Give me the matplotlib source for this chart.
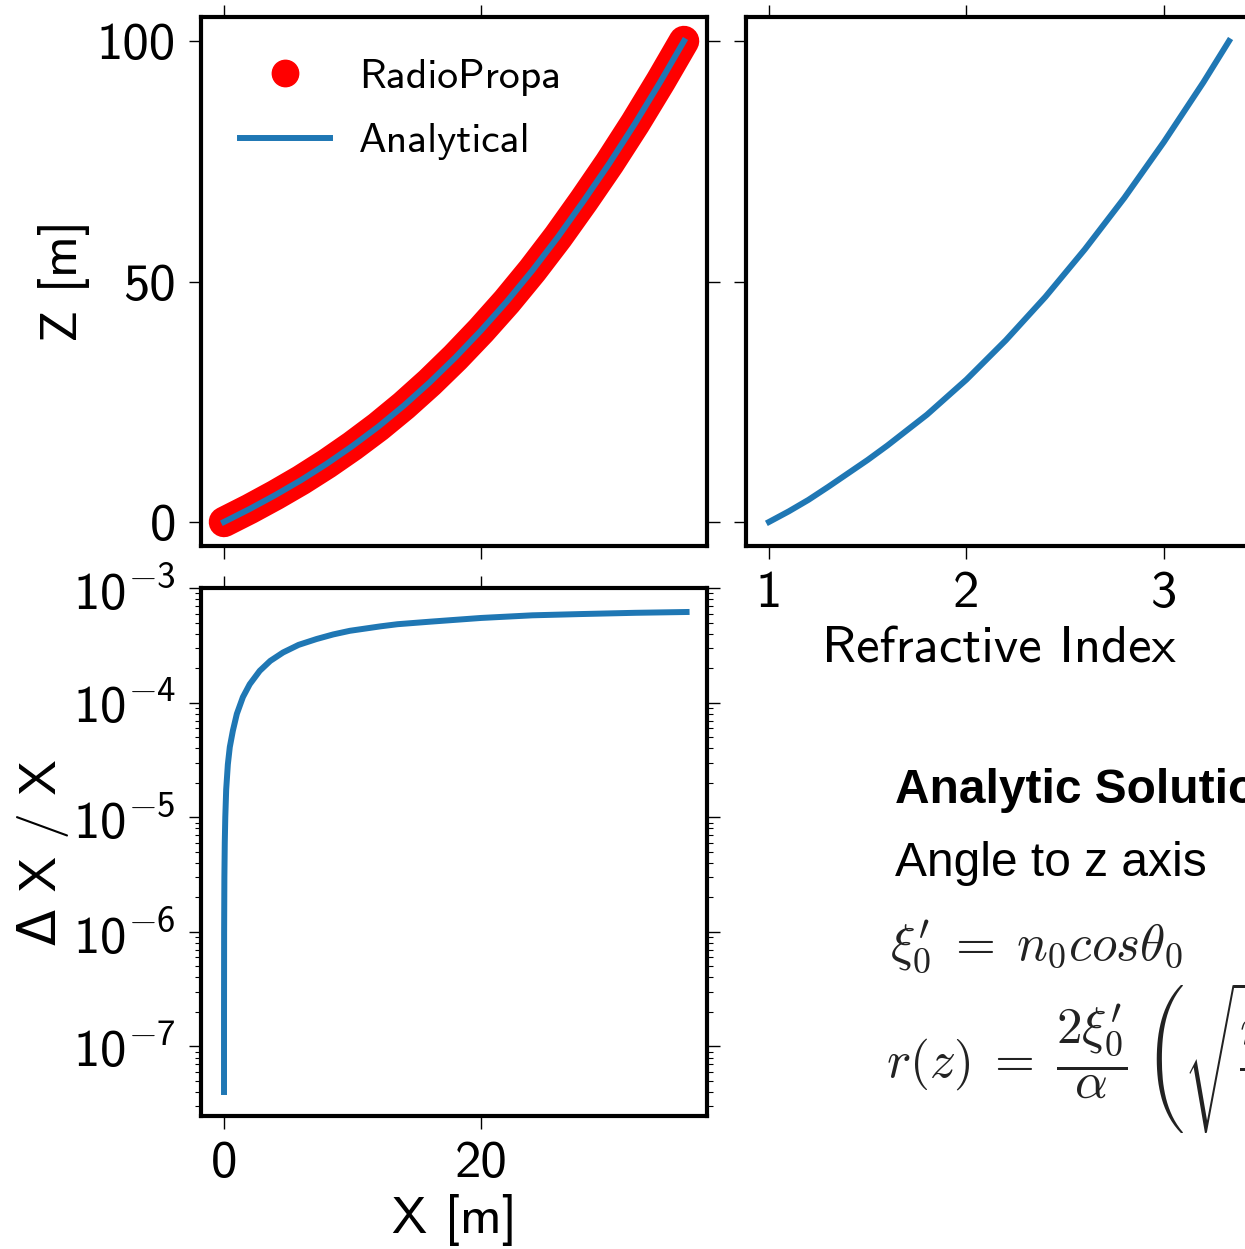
import numpy as np
import matplotlib
matplotlib.use("Agg")
import matplotlib.pyplot as plt
from matplotlib.lines import Line2D
from matplotlib.ticker import FuncFormatter

# --- data ---
# ray path z(x), RadioPropa and analytical
path_x = [0.0, 2.0, 4.0, 6.0, 8.0, 10.0, 12.0, 14.0, 16.0, 18.0, 20.0,
          22.0, 24.0, 26.0, 28.0, 30.0, 32.0, 34.0, 35.8]
path_z = [0.0, 2.7, 5.6, 8.7, 12.1, 15.8, 19.8, 24.2, 29.0, 34.2, 39.8,
          45.8, 52.3, 59.3, 66.8, 74.6, 82.9, 91.7, 100.0]
# refractive index profile
n_vals = [1.0, 1.1, 1.2, 1.3, 1.4, 1.5, 1.6, 1.8, 2.0, 2.2, 2.4, 2.6, 2.8,
          3.0, 3.2, 3.33]
n_z = [0.0, 2.2, 4.6, 7.3, 10.1, 12.9, 15.9, 22.3, 29.6, 37.8, 46.8, 56.7,
       67.4, 79.0, 91.4, 100.0]
# relative deviation Delta X / X
dev_x = [0.0004, 0.002, 0.01, 0.03, 0.06, 0.1, 0.17, 0.3, 0.45, 0.69, 1.0,
         1.47, 2.0, 2.78, 3.6, 4.6, 5.8, 7.2, 8.5, 9.8, 12.2, 13.5, 16.0,
         20.0, 24.0, 27.8, 32.0, 36.0]
dev_y = [4.0e-8, 2.0e-7, 1.0e-6, 3.0e-6, 6.0e-6, 1.0e-5, 1.75e-5, 2.9e-5,
         4.1e-5, 5.7e-5, 8.0e-5, 1.12e-4, 1.45e-4, 1.9e-4, 2.32e-4, 2.75e-4,
         3.2e-4, 3.6e-4, 3.95e-4, 4.25e-4, 4.65e-4, 4.85e-4, 5.1e-4, 5.5e-4,
         5.8e-4, 5.95e-4, 6.1e-4, 6.2e-4]

plt.rcParams['font.family'] = ['cmss10', 'DejaVu Sans']
plt.rcParams['mathtext.fontset'] = 'custom'
plt.rcParams['mathtext.rm'] = 'cmss10'
plt.rcParams['mathtext.it'] = 'cmss10'
plt.rcParams['mathtext.fallback'] = 'cm'
plt.rcParams['axes.linewidth'] = 3

W, H = 1245, 1249
fig = plt.figure(figsize=(W / 100, H / 100), dpi=100)


def px_axes(l, t, r, b):
    return fig.add_axes([l / W, 1 - b / H, (r - l) / W, (b - t) / H])


ax_path = px_axes(201, 17, 707, 546)
ax_n = px_axes(746, 17, 1252, 546)
ax_dev = px_axes(201, 588, 707, 1116)

blue = '#1f77b4'
ax_path.plot(path_x, path_z, color='red', lw=22, solid_capstyle='round',
             solid_joinstyle='round')
ax_path.plot(path_x, path_z, color=blue, lw=4.3)
handles = [Line2D([], [], color='red', marker='o', ls='none', markersize=19),
           Line2D([], [], color=blue, lw=4.3)]
ax_path.legend(handles, ['RadioPropa', 'Analytical'], loc='upper left',
               frameon=False, fontsize=30, handlelength=2.15,
               handletextpad=0.7, labelspacing=0.66,
               borderaxespad=0.3, bbox_to_anchor=(0.02, 0.977))

ax_n.plot(n_vals, n_z, color=blue, lw=4.3)
ax_dev.plot(dev_x, dev_y, color=blue, lw=4.3)
ax_dev.set_yscale('log')

# share limits between the panels like the original grid
ax_dev.set_xlim(ax_path.get_xlim())
ax_n.set_ylim(ax_path.get_ylim())

ax_path.set_yticks([0, 50, 100])
ax_path.set_xticks([0, 20])
ax_dev.set_xticks([0, 20])
ax_n.set_xticks([1, 2, 3])
ax_n.set_yticks([0, 50, 100])
ax_dev.set_yticks([1e-7, 1e-6, 1e-5, 1e-4, 1e-3])
ax_dev.yaxis.set_major_formatter(
    FuncFormatter(lambda v, p: r'$10^{%d}$' % round(np.log10(v))))

for ax in (ax_path, ax_n, ax_dev):
    ax.tick_params(which='major', direction='out', length=9, width=1,
                   labelsize=38, pad=9, top=True, right=True)
    ax.tick_params(which='minor', direction='out', length=4.5, width=0.8,
                   top=True, right=True)

ax_path.tick_params(labelbottom=False)
ax_n.tick_params(labelleft=False)

ax_path.set_ylabel('Z [m]', fontsize=38, labelpad=5)
ax_dev.set_ylabel('Δ X / X', fontsize=38, labelpad=3)
ax_dev.set_xlabel('X [m]', fontsize=38, labelpad=5)
ax_n.set_xlabel('Refractive Index', fontsize=38, labelpad=7)

# text block on the right (cut by the right edge, as in the original crop)
fig.text(895 / W, 1 - 803 / H, 'Analytic Solution', family='Liberation Sans',
         weight='bold', fontsize=34.5, va='baseline')
fig.text(895 / W, 1 - 876 / H, 'Angle to z axis', family='Liberation Sans',
         fontsize=34.5, va='baseline')
fig.text(890 / W, 1 - 960 / H, r"$\xi_0^{\prime}\;=\;n_0 cos\theta_0$",
         math_fontfamily='cm', fontsize=37, color='#222222', va='baseline')
fig.text(886 / W, 1 - 1058 / H,
         r"$r(z)\;=\;\dfrac{2\xi_0^{\prime}}{\alpha}\;\left(\sqrt{\dfrac{n(z)^2}{\xi_0^{\prime 2}}-1}-\sqrt{\dfrac{n_0^2}{\xi_0^{\prime 2}}-1}\right)$",
         math_fontfamily='cm', fontsize=37, color='#222222', va='center')

fig.savefig('out.png', dpi=100)
